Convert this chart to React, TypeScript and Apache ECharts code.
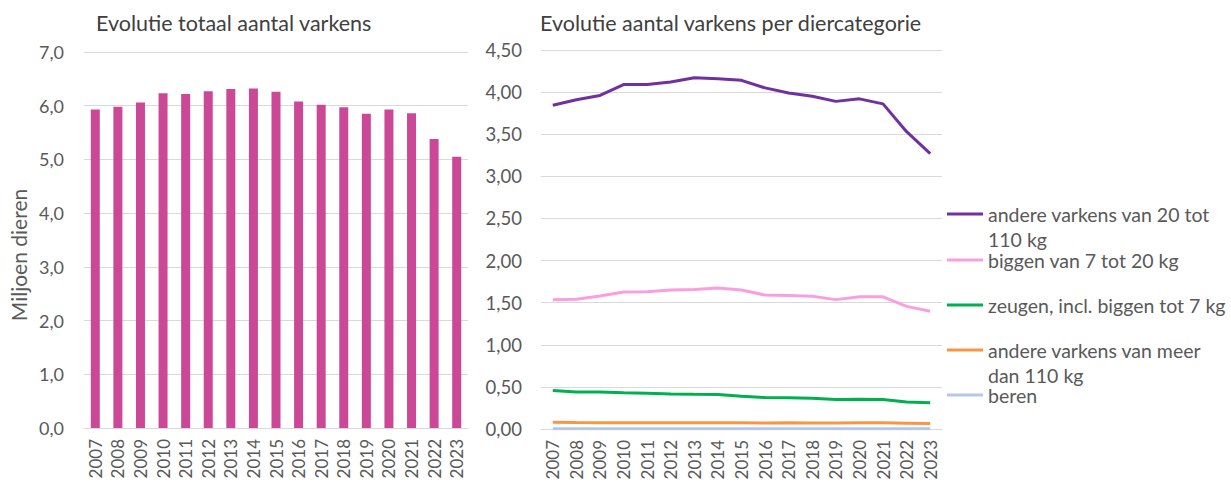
import React, { useEffect, useRef } from "react";
import * as echarts from "echarts";

const years = ["2007","2008","2009","2010","2011","2012","2013","2014","2015","2016","2017","2018","2019","2020","2021","2022","2023"];
const totaal = [5.93,5.98,6.06,6.23,6.22,6.27,6.31,6.32,6.26,6.08,6.02,5.97,5.85,5.93,5.86,5.38,5.05];
const andere20tot110 = [3.845,3.91,3.96,4.09,4.09,4.12,4.17,4.16,4.14,4.05,3.99,3.95,3.89,3.92,3.86,3.53,3.27];
const biggen7tot20 = [1.536,1.54,1.58,1.627,1.63,1.65,1.655,1.675,1.65,1.59,1.585,1.575,1.536,1.57,1.57,1.456,1.397];
const zeugen = [0.456,0.44,0.44,0.43,0.425,0.417,0.413,0.41,0.39,0.373,0.37,0.365,0.35,0.353,0.35,0.32,0.313];
const andereMeer110 = [0.08,0.076,0.074,0.074,0.075,0.074,0.074,0.074,0.074,0.072,0.073,0.072,0.071,0.074,0.073,0.069,0.065];
const beren = [0.004,0.004,0.004,0.004,0.004,0.003,0.003,0.003,0.003,0.003,0.003,0.003,0.003,0.003,0.003,0.002,0.002];

const seriesNames = [
  "andere varkens van 20 tot 110 kg",
  "biggen van 7 tot 20 kg",
  "zeugen, incl. biggen tot 7 kg",
  "andere varkens van meer dan 110 kg",
  "beren",
];
const seriesData = [andere20tot110, biggen7tot20, zeugen, andereMeer110, beren];
const seriesColors = ["#7030A0", "#F99FDF", "#00B050", "#F79646", "#B4C7E7"];
const wrapped: Record<string, string> = {
  "andere varkens van 20 tot 110 kg": "\nandere varkens van 20 tot\n110 kg",
  "andere varkens van meer dan 110 kg": "\nandere varkens van meer\ndan 110 kg",
};
const legendCenters = [214, 260, 305, 350, 395];

const FONT = "Lato";
const TXT = "#595959";
const GRID = "#D9D9D9";

export default function App() {
  const ref = useRef<HTMLDivElement>(null);
  useEffect(() => {
    if (!ref.current) return;
    const chart = echarts.init(ref.current, null, { renderer: "svg" });
    const LH = 25;
    const legends = seriesNames.map((name, i) => {
      const isWrapped = !!wrapped[name];
      return {
        orient: "vertical",
        left: 947,
        top: legendCenters[i] - (isWrapped ? LH * 1.5 : LH / 2),
        padding: 0,
        itemWidth: 36,
        itemHeight: 3,
        itemGap: 0,
        icon: "rect",
        data: [name],
        formatter: (n: string) => wrapped[n] || n,
        textStyle: { color: TXT, fontFamily: FONT, fontSize: 19.5, lineHeight: LH },
      };
    });
    chart.setOption({
      animation: false,
      textStyle: { fontFamily: FONT },
      title: [
        { text: "Evolutie totaal aantal varkens", left: 96, top: 12, padding: 0, textStyle: { fontFamily: FONT, fontWeight: "normal", fontSize: 21.5, color: "#404040" } },
        { text: "Evolutie aantal varkens per diercategorie", left: 540, top: 12, padding: 0, textStyle: { fontFamily: FONT, fontWeight: "normal", fontSize: 21.5, color: "#404040" } },
      ],
      legend: legends,
      grid: [
        { left: 84, top: 52, width: 384, height: 376 },
        { left: 541, top: 50, width: 401, height: 379 },
      ],
      xAxis: [0, 1].map((g) => ({
        type: "category",
        gridIndex: g,
        data: years,
        axisLine: { lineStyle: { color: GRID, width: 1 } },
        axisTick: { show: false },
        axisLabel: { rotate: 90, margin: 11, color: TXT, fontSize: 17, fontFamily: FONT },
      })),
      yAxis: [
        {
          type: "value", gridIndex: 0, min: 0, max: 7, interval: 1,
          axisLine: { show: false }, axisTick: { show: false },
          splitLine: { lineStyle: { color: GRID, width: 1 } },
          axisLabel: { color: TXT, fontSize: 18, fontFamily: FONT, margin: 20, formatter: (v: number) => v.toFixed(1).replace(".", ",") },
        },
        {
          type: "value", gridIndex: 1, min: 0, max: 4.5, interval: 0.5,
          axisLine: { show: false }, axisTick: { show: false },
          splitLine: { lineStyle: { color: GRID, width: 1 } },
          axisLabel: { color: TXT, fontSize: 18.5, fontFamily: FONT, margin: 19, formatter: (v: number) => v.toFixed(2).replace(".", ",") },
        },
      ],
      graphic: [
        {
          type: "text", x: 18, y: 255, rotation: Math.PI / 2,
          style: { text: "Miljoen dieren", fill: TXT, font: `21px ${FONT}`, align: "center", verticalAlign: "middle" },
        },
      ],
      series: [
        {
          type: "bar", name: "Totaal", xAxisIndex: 0, yAxisIndex: 0, data: totaal,
          barWidth: 9, itemStyle: { color: "#CB4897" },
        },
        ...seriesNames.map((name, i) => ({
          type: "line", name, xAxisIndex: 1, yAxisIndex: 1, data: seriesData[i],
          showSymbol: false, symbol: "none",
          lineStyle: { color: seriesColors[i], width: 3 },
          itemStyle: { color: seriesColors[i] },
        })),
      ],
    });
    return () => chart.dispose();
  }, []);
  return (
    <div
      ref={ref}
      style={{ position: "fixed", left: 0, top: 0, width: 1231, height: 483, background: "#fff" }}
    />
  );
}
